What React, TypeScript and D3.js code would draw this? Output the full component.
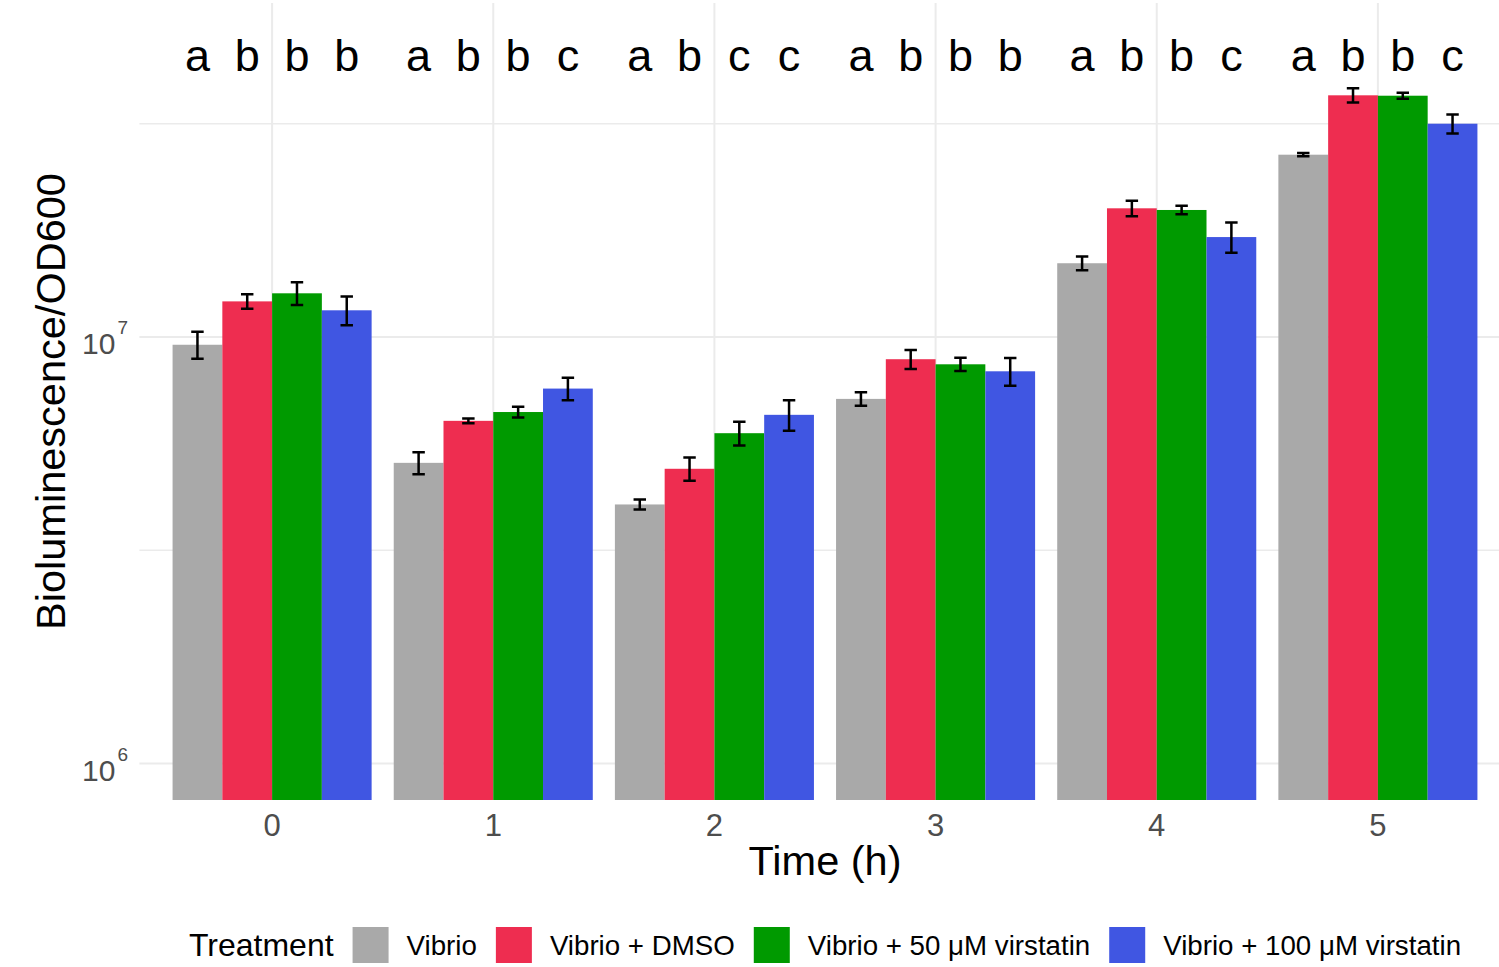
import React, { useRef, useEffect } from "react";
import * as d3 from "d3";

const times = ["0", "1", "2", "3", "4", "5"];
const treatments = [
  "Vibrio",
  "Vibrio + DMSO",
  "Vibrio + 50 μM virstatin",
  "Vibrio + 100 μM virstatin",
];
const colors = ["#a9a9a9", "#ee2d50", "#009a00", "#4056e2"];

// mean bioluminescence/OD600 per time point
const vibrioMean = [9.59e6, 5.07e6, 4.05e6, 7.16e6, 1.489e7, 2.675e7];
const dmsoMean = [1.212e7, 6.36e6, 4.91e6, 8.87e6, 2.003e7, 3.686e7];
const vir50Mean = [1.266e7, 6.67e6, 5.95e6, 8.63e6, 1.985e7, 3.678e7];
const vir100Mean = [1.155e7, 7.57e6, 6.57e6, 8.31e6, 1.715e7, 3.162e7];

// error (+/-)
const vibrioErr = [0.7e6, 0.3e6, 0.11e6, 0.26e6, 0.55e6, 0.24e6];
const dmsoErr = [0.47e6, 0.085e6, 0.31e6, 0.455e6, 0.83e6, 1.42e6];
const vir50Err = [0.78e6, 0.19e6, 0.38e6, 0.31e6, 0.46e6, 0.6e6];
const vir100Err = [0.9e6, 0.46e6, 0.54e6, 0.62e6, 1.39e6, 1.62e6];

// significance letters per time point
const letters = [
  ["a", "b", "b", "b"],
  ["a", "b", "b", "c"],
  ["a", "b", "c", "c"],
  ["a", "b", "b", "b"],
  ["a", "b", "b", "c"],
  ["a", "b", "b", "c"],
];
const letterY = 4.51e7;

const majorBreaks = [1e6, 1e7];
const minorBreaks = [Math.pow(10, 6.5), Math.pow(10, 7.5)];

const FONT = "'Liberation Sans', Arial, sans-serif";

const App = () => {
  const svgRef = useRef(null);

  const width = 1499;
  const height = 967;
  const panel = { left: 139.4, right: 1510.6, top: 3, bottom: 800 };

  useEffect(() => {
    const svg = d3.select(svgRef.current);
    svg.selectAll("*").remove();

    const means = [vibrioMean, dmsoMean, vir50Mean, vir100Mean];
    const errs = [vibrioErr, dmsoErr, vir50Err, vir100Err];

    const rows = [];
    times.forEach((t, i) => {
      treatments.forEach((tr, j) => {
        rows.push({
          time: t,
          treatment: tr,
          mean: means[j][i],
          err: errs[j][i],
          letter: letters[i][j],
        });
      });
    });

    const x = d3
      .scalePoint()
      .domain(times)
      .range([panel.left, panel.right])
      .padding(0.6);
    const step = x.step();
    const dodge = d3
      .scaleBand()
      .domain(treatments)
      .range([-0.45 * step, 0.45 * step])
      .padding(0);

    const y = d3.scaleLog().domain([1e6, 1e7]).range([763.6, 337]);

    const color = d3.scaleOrdinal().domain(treatments).range(colors);

    // grid
    const grid = svg.append("g").attr("stroke", "#ebebeb");
    grid
      .selectAll(".minor")
      .data(minorBreaks)
      .enter()
      .append("line")
      .attr("x1", panel.left)
      .attr("x2", panel.right)
      .attr("y1", (d) => y(d))
      .attr("y2", (d) => y(d))
      .attr("stroke-width", 1.6);
    grid
      .selectAll(".major")
      .data(majorBreaks)
      .enter()
      .append("line")
      .attr("x1", panel.left)
      .attr("x2", panel.right)
      .attr("y1", (d) => y(d))
      .attr("y2", (d) => y(d))
      .attr("stroke-width", 2);
    grid
      .selectAll(".vgrid")
      .data(times)
      .enter()
      .append("line")
      .attr("x1", (d) => x(d))
      .attr("x2", (d) => x(d))
      .attr("y1", panel.top)
      .attr("y2", panel.bottom)
      .attr("stroke-width", 2);

    // bars
    svg
      .append("g")
      .selectAll("rect")
      .data(rows)
      .enter()
      .append("rect")
      .attr("x", (d) => x(d.time) + dodge(d.treatment))
      .attr("y", (d) => y(d.mean))
      .attr("width", dodge.bandwidth())
      .attr("height", (d) => panel.bottom - y(d.mean))
      .attr("fill", (d) => color(d.treatment));

    // error bars
    const cap = dodge.bandwidth() * 0.25;
    const eb = svg
      .append("g")
      .attr("stroke", "#000")
      .attr("stroke-width", 2.5)
      .attr("fill", "none");
    rows.forEach((d) => {
      const cx = x(d.time) + dodge(d.treatment) + dodge.bandwidth() / 2;
      const y0 = y(d.mean - d.err);
      const y1 = y(d.mean + d.err);
      eb.append("path").attr(
        "d",
        `M${cx - cap / 2},${y1}H${cx + cap / 2}M${cx},${y1}V${y0}M${cx - cap / 2},${y0}H${cx + cap / 2}`
      );
    });

    // letters
    svg
      .append("g")
      .selectAll("text")
      .data(rows)
      .enter()
      .append("text")
      .attr("x", (d) => x(d.time) + dodge(d.treatment) + dodge.bandwidth() / 2)
      .attr("y", y(letterY))
      .attr("dy", "0.3em")
      .attr("text-anchor", "middle")
      .style("font-family", FONT)
      .style("font-size", "45px")
      .attr("fill", "#000")
      .text((d) => d.letter);

    // x tick labels
    svg
      .append("g")
      .selectAll("text")
      .data(times)
      .enter()
      .append("text")
      .attr("x", (d) => x(d))
      .attr("y", 836)
      .attr("text-anchor", "middle")
      .style("font-family", FONT)
      .style("font-size", "31px")
      .attr("fill", "#4d4d4d")
      .text((d) => d);

    // y tick labels 10^n
    const yl = svg
      .append("g")
      .selectAll("text")
      .data(majorBreaks)
      .enter()
      .append("text")
      .attr("x", 128)
      .attr("y", (d) => y(d) + 17)
      .attr("text-anchor", "end")
      .style("font-family", FONT)
      .style("font-size", "30px")
      .attr("fill", "#4d4d4d");
    yl.append("tspan").text("10");
    yl.append("tspan")
      .attr("dx", 2)
      .attr("dy", -20)
      .style("font-size", "19px")
      .text((d) => Math.round(Math.log10(d)));

    // axis titles
    const midX = (panel.left + panel.right) / 2;
    svg
      .append("text")
      .attr("x", midX)
      .attr("y", 875)
      .attr("text-anchor", "middle")
      .style("font-family", FONT)
      .style("font-size", "41.5px")
      .attr("fill", "#000")
      .text("Time (h)");
    svg
      .append("text")
      .attr(
        "transform",
        `translate(65,${(panel.top + panel.bottom) / 2}) rotate(-90)`
      )
      .attr("text-anchor", "middle")
      .style("font-family", FONT)
      .style("font-size", "41.5px")
      .attr("fill", "#000")
      .text("Bioluminescence/OD600");

    // legend
    const legendY = 945;
    const keySize = 36;
    const lg = svg.append("g");
    const title = lg
      .append("text")
      .attr("y", legendY)
      .attr("dy", "0.35em")
      .style("font-family", FONT)
      .style("font-size", "32px")
      .attr("fill", "#000")
      .text("Treatment");
    let cursor = title.node().getComputedTextLength() + 19;
    treatments.forEach((tr) => {
      lg.append("rect")
        .attr("x", cursor)
        .attr("y", legendY - keySize / 2)
        .attr("width", keySize)
        .attr("height", keySize)
        .attr("fill", color(tr));
      cursor += keySize + 18;
      const label = lg
        .append("text")
        .attr("x", cursor)
        .attr("y", legendY)
        .attr("dy", "0.35em")
        .style("font-family", FONT)
        .style("font-size", "27.7px")
        .attr("fill", "#000")
        .text(tr);
      cursor += label.node().getComputedTextLength() + 19;
    });
    const total = cursor - 19;
    lg.attr("transform", `translate(${midX - total / 2},0)`);
  }, []);

  return (
    <svg
      ref={svgRef}
      width={width}
      height={height}
      style={{ position: "absolute", left: 0, top: 0, background: "#fff" }}
    />
  );
};

export default App;
